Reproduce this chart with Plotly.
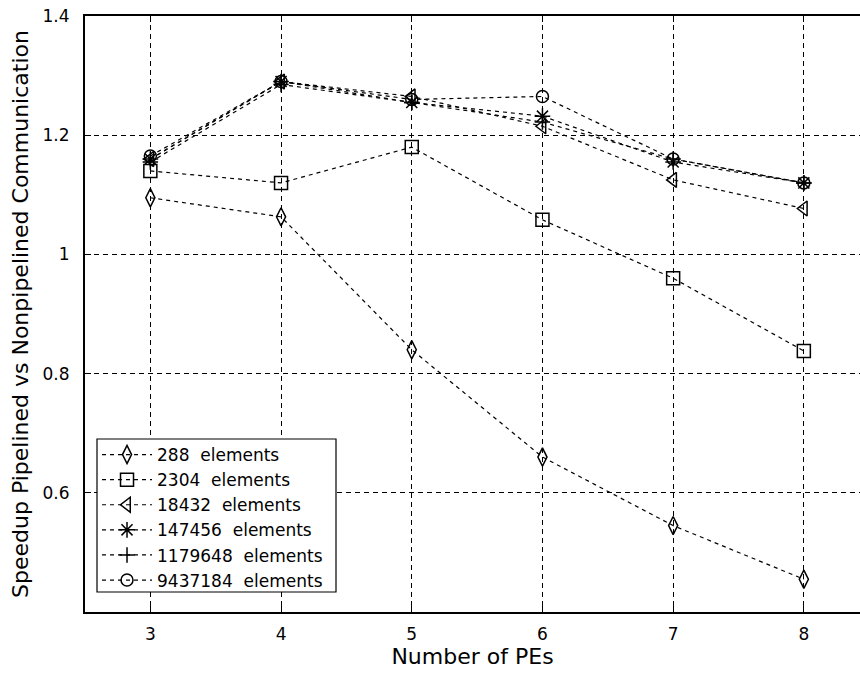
import plotly.graph_objects as go

# Number of processing elements
pes = [3, 4, 5, 6, 7, 8]

# Speedup of pipelined over non-pipelined communication, per problem size
speedup_288 = [1.095, 1.063, 0.840, 0.660, 0.545, 0.455]
speedup_2304 = [1.140, 1.120, 1.180, 1.058, 0.960, 0.838]
speedup_18432 = [1.160, 1.290, 1.265, 1.215, 1.125, 1.077]
speedup_147456 = [1.160, 1.290, 1.255, 1.232, 1.155, 1.120]
speedup_1179648 = [1.155, 1.285, 1.255, 1.222, 1.160, 1.120]
speedup_9437184 = [1.165, 1.290, 1.260, 1.265, 1.160, 1.120]

series_names = [
    "288\u00a0 elements",
    "2304\u00a0 elements",
    "18432\u00a0 elements",
    "147456\u00a0 elements",
    "1179648\u00a0 elements",
    "9437184\u00a0 elements",
]
series_values = [
    speedup_288,
    speedup_2304,
    speedup_18432,
    speedup_147456,
    speedup_1179648,
    speedup_9437184,
]
series_symbols = [
    ("diamond-tall-open", 13),
    ("square-open", 13),
    ("triangle-left-open", 13),
    ("asterisk-open", 13),
    ("cross-thin-open", 11),
    ("circle-open", 12),
]

y_ticks = [0.6, 0.8, 1.0, 1.2, 1.4]
y_tick_text = ["0.6", "0.8", "1", "1.2", "1.4"]

FONT = "DejaVu Sans"

fig = go.Figure()
for name, vals, (sym, size) in zip(series_names, series_values, series_symbols):
    fig.add_trace(
        go.Scatter(
            x=pes,
            y=vals,
            name=name,
            mode="lines+markers",
            line=dict(color="black", width=1.2, dash="4px,4px"),
            marker=dict(symbol=sym, size=size, color="black",
                        line=dict(color="black", width=1.5)),
        )
    )

# Legend frame drawn as a white box in paper coordinates (plot area 85..860 x 16..612)
fig.add_shape(
    type="rect", xref="paper", yref="paper",
    x0=(97 - 85) / 775, x1=(336 - 85) / 775,
    y0=(612 - 592) / 596, y1=(612 - 439) / 596,
    fillcolor="white", line=dict(color="black", width=1.2), layer="above",
)

fig.update_layout(
    width=860,
    height=674,
    margin=dict(l=85, r=0, t=16, b=62),
    paper_bgcolor="white",
    plot_bgcolor="white",
    font=dict(family=FONT, size=17, color="black"),
    showlegend=True,
    legend=dict(
        x=0.0155,
        y=(612 - 437) / 596,
        xanchor="left",
        yanchor="top",
        bgcolor="rgba(0,0,0,0)",
        borderwidth=0,
        font=dict(family=FONT, size=17, color="black"),
        itemwidth=50,
        tracegroupgap=0,
    ),
    xaxis=dict(
        range=[2.5, 2.5 + 775 / 130.7],
        tickvals=pes,
        ticks="inside",
        ticklen=6,
        tickcolor="black",
        showline=True,
        linecolor="black",
        linewidth=2,
        mirror="ticks",
        showgrid=True,
        gridcolor="black",
        gridwidth=1.2,
        griddash="5px,4px",
        zeroline=False,
        ticklabelstandoff=6,
        tickfont=dict(family=FONT, size=17),
        title=dict(text="Number of PEs", font=dict(family=FONT, size=22), standoff=4),
    ),
    yaxis=dict(
        range=[0.4, 1.4],
        tickvals=y_ticks,
        ticktext=y_tick_text,
        ticks="inside",
        ticklen=6,
        tickcolor="black",
        showline=True,
        linecolor="black",
        linewidth=2,
        mirror=False,
        showgrid=True,
        gridcolor="black",
        gridwidth=1.2,
        griddash="5px,4px",
        zeroline=False,
        ticklabelstandoff=10,
        tickfont=dict(family=FONT, size=17),
        title=dict(text="Speedup Pipelined vs Nonpipelined Communication",
                   font=dict(family=FONT, size=22), standoff=8),
    ),
)

fig.write_html("out.html")
